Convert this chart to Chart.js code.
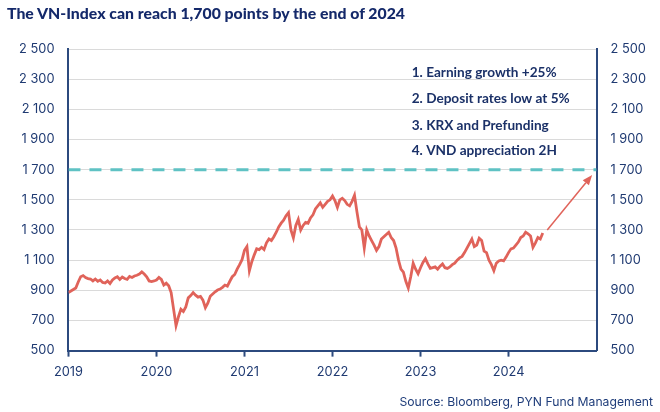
<!DOCTYPE html>
<html>
<head>
<meta charset="utf-8">
<script src="https://cdn.jsdelivr.net/npm/chart.js@4.4.1/dist/chart.umd.min.js"></script>
<style>
  html, body { margin: 0; padding: 0; background: #fff; }
  #wrap { position: relative; width: 660px; height: 412px; overflow: hidden; }
  #title { position: absolute; left: 7px; top: 3px; font: 900 15.8px Lato, sans-serif; color: #14296a; white-space: nowrap; }
  #source { position: absolute; right: 7px; top: 394px; font: 12.2px Inter, sans-serif; color: #1f3d7a; white-space: nowrap; }
  #box { position: absolute; left: 0; top: 0; width: 660px; height: 412px; }
</style>
</head>
<body>
<div id="wrap">
  <div id="box"><canvas id="vn"></canvas></div>
  <div id="title">The VN-Index can reach 1,700 points by the end of 2024</div>
  <div id="source">Source: Bloomberg, PYN Fund Management</div>
</div>
<script>
// VN-Index, about three readings per month, Jan 2019 - May 2024
const startYear = 2019;
const pointsPerYear = 36;
const vnIndex = [
  // 2019
  885, 895, 905, 915, 955, 990, 998, 985, 978, 975, 962, 975,
  960, 968, 952, 948, 962, 945, 968, 982, 990, 972, 988, 978,
  972, 992, 985, 995, 1000, 1008, 1022, 1008, 990, 962, 958, 962,
  // 2020
  968, 985, 972, 935, 948, 930, 885, 775, 665, 725, 775, 760,
  790, 850, 865, 885, 868, 855, 860, 835, 785, 815, 860, 875,
  890, 902, 908, 920, 935, 928, 960, 990, 1005, 1040, 1070, 1103,
  // 2021
  1165, 1190, 1030, 1090, 1135, 1175, 1170, 1185, 1170, 1215, 1240, 1230,
  1255, 1285, 1320, 1345, 1365, 1395, 1415, 1300, 1248, 1330, 1370, 1300,
  1330, 1350, 1345, 1380, 1400, 1440, 1460, 1480, 1450, 1470, 1490, 1500,
  // 2022
  1525, 1495, 1450, 1500, 1510, 1495, 1470, 1460, 1490, 1530, 1420, 1320,
  1300, 1180, 1300, 1260, 1230, 1200, 1165, 1190, 1240, 1255, 1270, 1285,
  1250, 1230, 1180, 1100, 1040, 1020, 960, 915, 990, 1080, 1040, 1010,
  // 2023
  1050, 1085, 1110, 1075, 1045, 1050, 1055, 1040, 1060, 1075, 1050, 1045,
  1055, 1070, 1080, 1100, 1115, 1125, 1150, 1180, 1210, 1240, 1190, 1200,
  1245, 1230, 1160, 1150, 1100, 1070, 1030, 1080, 1095, 1100, 1095, 1120,
  // 2024
  1150, 1175, 1180, 1200, 1220, 1250, 1260, 1285, 1275, 1260, 1185, 1215,
  1250, 1240, 1280
];
const yearTicks = [2019, 2020, 2021, 2022, 2023, 2024];
const xEnd = 2025;
const yMin = 500, yMax = 2500, yStep = 200;
const targetLevel = 1700;
const notes = ['1. Earning growth +25%', '2. Deposit rates low at 5%', '3. KRX and Prefunding', '4. VND appreciation 2H'];
const noteX = 2022.9;
const noteY = [2345, 2170, 1995, 1825];
const arrowFrom = { x: 2024.44, y: 1300 };
const arrowTo = { x: 2024.95, y: 1665 };

const navy = '#2c4a7e';
const tickText = '#1f3a72';
const red = '#e0635a';
const teal = '#5fc2c4';

const seriesPoints = vnIndex.map((v, i) => ({ x: startYear + i / pointsPerYear, y: v }));

function fmt(v) {
  if (v < 1000) return String(v);
  return Math.floor(v / 1000) + ' ' + String(v % 1000).padStart(3, '0');
}

const annotate = {
  id: 'annotate',
  afterDatasetsDraw(chart) {
    const { ctx, scales } = chart;
    const x = scales.x, y = scales.y;
    ctx.save();
    ctx.font = 'bold 13.6px Lato';
    ctx.fillStyle = '#1b3168';
    ctx.textBaseline = 'middle';
    notes.forEach((t, i) => {
      ctx.fillText(t, x.getPixelForValue(noteX), y.getPixelForValue(noteY[i]));
    });
    // arrow towards the target
    const x1 = x.getPixelForValue(arrowFrom.x), y1 = y.getPixelForValue(arrowFrom.y);
    const x2 = x.getPixelForValue(arrowTo.x), y2 = y.getPixelForValue(arrowTo.y);
    const ang = Math.atan2(y2 - y1, x2 - x1);
    const len = 10, half = 4;
    ctx.strokeStyle = red;
    ctx.fillStyle = red;
    ctx.lineWidth = 1.5;
    ctx.beginPath();
    ctx.moveTo(x1, y1);
    ctx.lineTo(x2 - len * Math.cos(ang), y2 - len * Math.sin(ang));
    ctx.stroke();
    ctx.beginPath();
    ctx.moveTo(x2, y2);
    ctx.lineTo(x2 - len * Math.cos(ang) + half * Math.sin(ang), y2 - len * Math.sin(ang) - half * Math.cos(ang));
    ctx.lineTo(x2 - len * Math.cos(ang) - half * Math.sin(ang), y2 - len * Math.sin(ang) + half * Math.cos(ang));
    ctx.closePath();
    ctx.fill();
    ctx.restore();
  }
};

const tickFont = { family: 'Inter', size: 12.8 };

new Chart(document.getElementById('vn'), {
  type: 'line',
  data: {
    datasets: [{
      data: seriesPoints,
      borderColor: red,
      borderWidth: 2.8,
      pointRadius: 0,
      tension: 0,
      order: 1
    }, {
      data: [{ x: startYear, y: targetLevel }, { x: xEnd, y: targetLevel }],
      borderColor: teal,
      borderWidth: 3,
      borderDash: [12, 9],
      pointRadius: 0,
      order: 2
    }]
  },
  options: {
    responsive: true,
    maintainAspectRatio: false,
    animation: false,
    layout: { padding: { top: 49, left: 5, right: 0, bottom: 24 } },
    plugins: {
      legend: { display: false },
      tooltip: { enabled: false }
    },
    scales: {
      x: {
        type: 'linear',
        min: startYear,
        max: xEnd,
        afterBuildTicks: (axis) => { axis.ticks = yearTicks.concat([xEnd]).map(v => ({ value: v })); },
        ticks: {
          callback: (v) => yearTicks.includes(v) ? String(v) : '',
          color: tickText,
          font: tickFont,
          padding: 8,
          maxRotation: 0
        },
        grid: {
          drawOnChartArea: false,
          drawTicks: true,
          tickLength: 6,
          tickWidth: 2,
          tickColor: (c) => (c.tick && c.tick.value === xEnd) ? 'rgba(0,0,0,0)' : navy
        },
        border: { color: navy, width: 2 }
      },
      y: {
        position: 'left',
        min: yMin,
        max: yMax,
        ticks: { stepSize: yStep, callback: fmt, color: tickText, font: tickFont, padding: 14 },
        grid: { color: '#dadada', lineWidth: 1, drawTicks: false },
        border: { color: navy, width: 2 }
      },
      y2: {
        position: 'right',
        min: yMin,
        max: yMax,
        ticks: { stepSize: yStep, callback: fmt, color: tickText, font: tickFont, padding: 14 },
        grid: { drawOnChartArea: false, drawTicks: false },
        border: { color: navy, width: 2 }
      }
    }
  },
  plugins: [annotate]
});
</script>
</body>
</html>
